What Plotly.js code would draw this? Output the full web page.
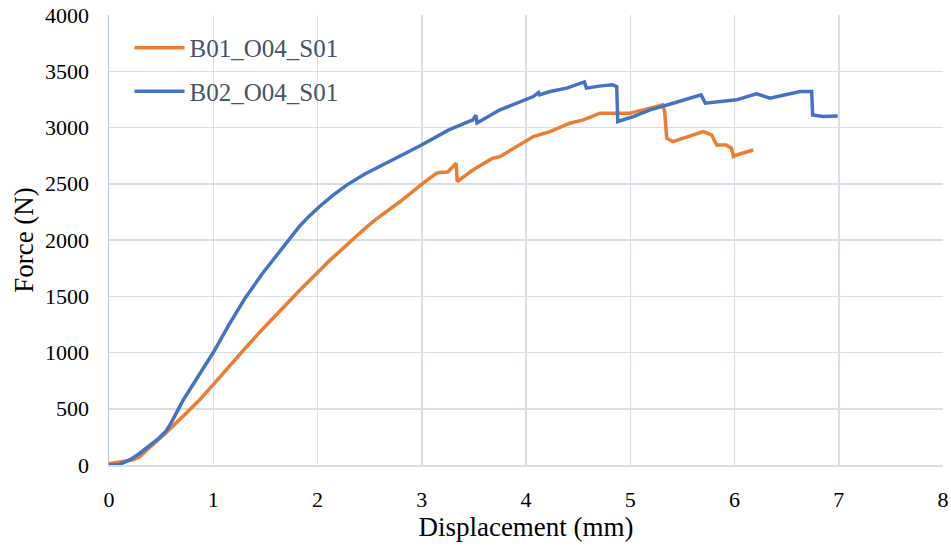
<!DOCTYPE html>
<html>
<head>
<meta charset="utf-8">
<script src="https://cdn.plot.ly/plotly-3.0.1.min.js"></script>
<style>html,body{margin:0;padding:0;background:#fff;}#chart{width:951px;height:546px;}</style>
</head>
<body>
<div id="chart"></div>
<script>
// Series B01_O04_S01 (orange)
const b01Name = "B01_O04_S01";
const b01X = [0, 0.1, 0.23, 0.29, 0.4, 0.55, 0.74, 0.87, 1.0, 1.2, 1.27, 1.44, 1.83, 2.12, 2.31, 2.44, 2.55, 2.79, 3.01, 3.14, 3.17, 3.25, 3.33, 3.34, 3.49, 3.68, 3.75, 4.07, 4.23, 4.42, 4.55, 4.71, 4.83, 5.0, 5.19, 5.31, 5.33, 5.35, 5.41, 5.70, 5.78, 5.83, 5.92, 5.97, 5.99, 6.02, 6.18];
const b01Y = [10, 25, 46, 70, 160, 290, 460, 580, 715, 930, 1000, 1175, 1554, 1821, 1984, 2090, 2177, 2340, 2504, 2593, 2600, 2605, 2682, 2518, 2622, 2727, 2741, 2919, 2964, 3038, 3068, 3127, 3127, 3127, 3172, 3201, 3142, 2905, 2875, 2964, 2934, 2845, 2845, 2816, 2741, 2756, 2800];

// Series B02_O04_S01 (blue)
const b02Name = "B02_O04_S01";
const b02X = [0, 0.1, 0.2, 0.29, 0.4, 0.48, 0.55, 0.6, 0.65, 0.71, 0.85, 1.0, 1.15, 1.3, 1.47, 1.64, 1.76, 1.83, 1.92, 2.02, 2.15, 2.28, 2.45, 2.69, 2.98, 3.26, 3.40, 3.49, 3.52, 3.53, 3.75, 3.9, 4.07, 4.12, 4.13, 4.23, 4.39, 4.56, 4.58, 4.72, 4.83, 4.87, 4.88, 5.03, 5.19, 5.41, 5.68, 5.72, 6.02, 6.21, 6.34, 6.63, 6.74, 6.75, 6.85, 6.99];
const b02Y = [0, 5, 45, 100, 180, 240, 305, 380, 470, 574, 780, 1000, 1245, 1475, 1700, 1905, 2045, 2125, 2212, 2298, 2398, 2488, 2585, 2696, 2835, 2979, 3030, 3068, 3110, 3040, 3157, 3215, 3275, 3311, 3290, 3320, 3350, 3405, 3350, 3370, 3380, 3364, 3053, 3097, 3157, 3216, 3290, 3216, 3246, 3300, 3261, 3320, 3320, 3112, 3097, 3103];

// Axis ticks
const xTicks = [0, 1, 2, 3, 4, 5, 6, 7, 8];
const yTicks = [0, 500, 1000, 1500, 2000, 2500, 3000, 3500, 4000];

const serif = "Liberation Serif";

const traces = [
  {x: b01X, y: b01Y, name: b01Name, type: 'scatter', mode: 'lines',
   line: {color: '#ED7D31', width: 3.5}, legendgroup: 'a'},
  {x: b02X, y: b02Y, name: b02Name, type: 'scatter', mode: 'lines',
   line: {color: '#4472C4', width: 3.5}, legendgroup: 'b'}
];

const layout = {
  width: 951, height: 546,
  margin: {l: 109, r: 8, t: 15, b: 81},
  paper_bgcolor: '#ffffff', plot_bgcolor: '#ffffff',
  font: {family: serif, color: '#000000', size: 22},
  showlegend: true,
  legend: {
    x: 0.0246, y: 0.978, xanchor: 'left', yanchor: 'top',
    bgcolor: 'rgba(255,255,255,0)',
    font: {family: serif, size: 25, color: '#44546A'},
    tracegroupgap: 8,
    itemwidth: 50,
    traceorder: 'grouped'
  },
  xaxis: {
    range: [0, 8], tickvals: xTicks, ticktext: xTicks.map(String),
    showgrid: true, gridcolor: '#D9DDE6', gridwidth: 1.5,
    zeroline: false, showline: true, linecolor: '#D9DDE6', linewidth: 1.5,
    ticks: '', ticklabelstandoff: 14,
    tickfont: {family: serif, size: 22, color: '#000'},
    title: {text: 'Displacement (mm)', font: {family: serif, size: 27, color: '#000'}, standoff: 6}
  },
  yaxis: {
    range: [0, 4000], tickvals: yTicks, ticktext: yTicks.map(String),
    showgrid: true, gridcolor: '#D9DDE6', gridwidth: 1.5,
    zeroline: false, showline: true, linecolor: '#B7C3DB', linewidth: 1.5,
    ticks: '', ticklabelstandoff: 14,
    tickfont: {family: serif, size: 22, color: '#000'},
    title: {text: 'Force (N)', font: {family: serif, size: 27, color: '#000'}, standoff: 3}
  }
};

Plotly.newPlot('chart', traces, layout, {displayModeBar: false, staticPlot: true});
</script>
</body>
</html>
